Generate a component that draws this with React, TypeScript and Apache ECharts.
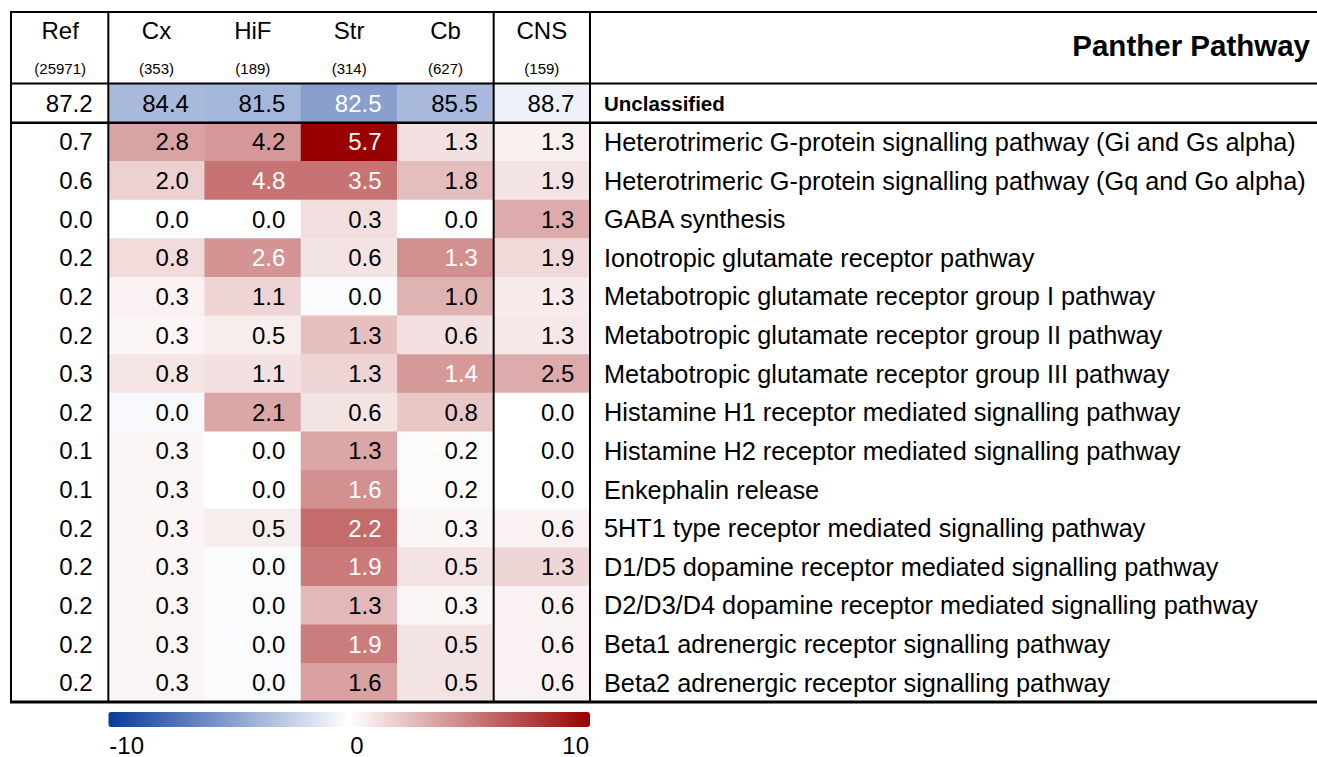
import React, { useEffect, useRef } from 'react';
import * as echarts from 'echarts';

// ---------- data ----------
const columns = ['Ref', 'Cx', 'HiF', 'Str', 'Cb', 'CNS'];
const columnCounts = ['(25971)', '(353)', '(189)', '(314)', '(627)', '(159)'];

const pathways = [
  'Unclassified',
  'Heterotrimeric G-protein signalling pathway (Gi and Gs alpha)',
  'Heterotrimeric G-protein signalling pathway (Gq and Go alpha)',
  'GABA synthesis',
  'Ionotropic glutamate receptor pathway',
  'Metabotropic glutamate receptor group I pathway',
  'Metabotropic glutamate receptor group II pathway',
  'Metabotropic glutamate receptor group III pathway',
  'Histamine H1 receptor mediated signalling pathway',
  'Histamine H2 receptor mediated signalling pathway',
  'Enkephalin release',
  '5HT1 type receptor mediated signalling pathway',
  'D1/D5 dopamine receptor mediated signalling pathway',
  'D2/D3/D4 dopamine receptor mediated signalling pathway',
  'Beta1 adrenergic receptor signalling pathway',
  'Beta2 adrenergic receptor signalling pathway',
];

// percentages shown in the cells
const refPct = [87.2, 0.7, 0.6, 0.0, 0.2, 0.2, 0.2, 0.3, 0.2, 0.1, 0.1, 0.2, 0.2, 0.2, 0.2, 0.2];
const cxPct = [84.4, 2.8, 2.0, 0.0, 0.8, 0.3, 0.3, 0.8, 0.0, 0.3, 0.3, 0.3, 0.3, 0.3, 0.3, 0.3];
const hifPct = [81.5, 4.2, 4.8, 0.0, 2.6, 1.1, 0.5, 1.1, 2.1, 0.0, 0.0, 0.5, 0.0, 0.0, 0.0, 0.0];
const strPct = [82.5, 5.7, 3.5, 0.3, 0.6, 0.0, 1.3, 1.3, 0.6, 1.3, 1.6, 2.2, 1.9, 1.3, 1.9, 1.6];
const cbPct = [85.5, 1.3, 1.8, 0.0, 1.3, 1.0, 0.6, 1.4, 0.8, 0.2, 0.2, 0.3, 0.5, 0.3, 0.5, 0.5];
const cnsPct = [88.7, 1.3, 1.9, 1.3, 1.9, 1.3, 1.3, 2.5, 0.0, 0.0, 0.0, 0.6, 1.3, 0.6, 0.6, 0.6];

// colour scores (enrichment statistic, -10 .. 10)
const refScore = [0, 0, 0, 0, 0, 0, 0, 0, 0, 0, 0, 0, 0, 0, 0, 0];
const cxScore = [-3.5, 3.6, 1.8, 0, 1.4, 0.5, 0.4, 1.0, -0.3, 0.4, 0.4, 0.4, 0.4, 0.4, 0.4, 0.4];
const hifScore = [-3.7, 4.0, 5.5, 0, 4.2, 1.7, 0.7, 1.2, 3.5, 0, 0, 0.7, -0.2, -0.2, -0.2, -0.2];
const strScore = [-4.8, 10, 5.5, 1.3, 1.1, -0.2, 2.5, 1.7, 1.1, 3.5, 4.4, 5.8, 5.2, 2.8, 5.1, 3.7];
const cbScore = [-3.5, 1.2, 2.6, 0, 4.4, 3.0, 1.2, 4.0, 2.2, 0.2, 0.2, 0.4, 1.1, 0.4, 1.1, 1.1];
const cnsScore = [-0.7, 0.6, 1.1, 3.3, 1.5, 0.8, 0.9, 3.3, 0, 0, 0, 0.5, 1.6, 0.5, 0.5, 0.5];

// significant cells (white text): [columnIndex, rowIndex]
const significantCells = [
  [3, 0], [3, 1], [2, 2], [3, 2], [2, 4], [4, 4], [4, 7], [3, 10], [3, 11], [3, 12], [3, 14],
];

const colorbarTicks = [-10, 0, 10];
const colorRange = ['#0a3a9c', '#ffffff', '#990000'];

// ---------- layout ----------
const W = 1317;
const H = 757;
const FONT = '"Liberation Sans", Arial, Helvetica, sans-serif';
const GRID_LEFT = 12;
const GRID_TOP = 84;
const GRID_W = 578;
const GRID_H = 618;
const TABLE_TOP = 12;
const BAR_TOP = 712;
const BAR_THICK = 15;

export default function App() {
  const ref = useRef<HTMLDivElement>(null);

  useEffect(() => {
    if (!ref.current) return;
    const chart = echarts.init(ref.current, undefined, { renderer: 'svg' });

    const pctByCol = [refPct, cxPct, hifPct, strPct, cbPct, cnsPct];
    const scoreByCol = [refScore, cxScore, hifScore, strScore, cbScore, cnsScore];
    const sigSet = new Set(significantCells.map(([c, r]) => `${c}-${r}`));

    const data: any[] = [];
    columns.forEach((_, c) => {
      pathways.forEach((__, r) => {
        const item: any = { value: [c, r, scoreByCol[c][r], pctByCol[c][r]] };
        if (sigSet.has(`${c}-${r}`)) item.label = { color: '#ffffff' };
        data.push(item);
      });
    });

    const colW = GRID_W / columns.length;
    const rowH = GRID_H / pathways.length;
    const right = GRID_LEFT + GRID_W;
    const bottom = GRID_TOP + GRID_H;

    const hLine = (y: number, lw: number) => ({
      type: 'line',
      shape: { x1: GRID_LEFT - 2, y1: y, x2: W, y2: y },
      style: { stroke: '#000', lineWidth: lw },
      z: 100,
    });
    const vLine = (x: number, lw: number) => ({
      type: 'line',
      shape: { x1: x, y1: TABLE_TOP - 1, x2: x, y2: bottom + 1 },
      style: { stroke: '#000', lineWidth: lw },
      z: 100,
    });

    const tickMin = colorbarTicks[0];
    const tickMax = colorbarTicks[colorbarTicks.length - 1];
    const tickTexts = colorbarTicks.map((t, i) => ({
      type: 'text',
      x: GRID_LEFT + colW + ((t - tickMin) / (tickMax - tickMin)) * (GRID_W - colW) + (i === 0 ? 1 : i === colorbarTicks.length - 1 ? -1 : 1),
      y: BAR_TOP + BAR_THICK + 18,
      style: {
        text: String(t),
        fontSize: 24,
        fontFamily: FONT,
        fill: '#000',
        align: i === colorbarTicks.length - 1 ? 'right' : 'left',
        verticalAlign: 'middle',
      },
    }));

    chart.setOption({
      animation: false,
      textStyle: { fontFamily: FONT },
      title: {
        text: 'Panther Pathway',
        right: 7,
        top: 30,
        padding: 0,
        textStyle: { fontSize: 29.5, fontWeight: 'bold', color: '#000', fontFamily: FONT },
      },
      grid: {
        left: GRID_LEFT,
        top: GRID_TOP,
        width: GRID_W,
        height: GRID_H,
        containLabel: false,
        outerBoundsMode: 'none',
      },
      xAxis: {
        type: 'category',
        data: columns,
        position: 'top',
        axisLine: { show: false },
        axisTick: { show: false },
        splitLine: { show: false },
        axisLabel: {
          interval: 0,
          margin: 3,
          color: '#000',
          formatter: (v: string, i: number) => `{a|${v}}\n{b|${columnCounts[i]}}`,
          rich: {
            a: { fontSize: 24, lineHeight: 50, color: '#000', fontFamily: FONT },
            b: { fontSize: 15, lineHeight: 26, color: '#000', fontFamily: FONT },
          },
        },
      },
      yAxis: {
        type: 'category',
        data: pathways,
        inverse: true,
        position: 'right',
        axisLine: { show: false },
        axisTick: { show: false },
        splitLine: { show: false },
        axisLabel: {
          interval: 0,
          margin: 14,
          align: 'left',
          fontSize: 25.3,
          color: '#000',
          fontFamily: FONT,
          formatter: (v: string) => (v === 'Unclassified' ? `{u|${v}}` : v),
          rich: {
            u: { fontSize: 20.5, fontWeight: 'bold', color: '#000', fontFamily: FONT },
          },
        },
      },
      visualMap: {
        type: 'continuous',
        min: tickMin,
        max: tickMax,
        dimension: 2,
        seriesIndex: 0,
        orient: 'horizontal',
        left: GRID_LEFT + colW,
        top: BAR_TOP,
        itemWidth: BAR_THICK,
        itemHeight: GRID_W - colW,
        padding: 0,
        calculable: false,
        hoverLink: false,
        text: ['', ''],
        textGap: 0,
        inRange: { color: colorRange },
      },
      series: [
        {
          type: 'heatmap',
          data,
          itemStyle: { borderWidth: 0 },
          emphasis: { disabled: true },
          label: {
            show: true,
            position: 'insideRight',
            distance: 16,
            fontSize: 24,
            color: '#000',
            fontFamily: FONT,
            formatter: (p: any) => Number(p.value[3]).toFixed(1),
          },
        },
      ],
      graphic: [
        hLine(TABLE_TOP, 2),
        hLine(GRID_TOP - 0.5, 2),
        hLine(GRID_TOP + rowH, 2.5),
        hLine(bottom, 3),
        vLine(GRID_LEFT - 1, 2),
        vLine(GRID_LEFT + colW, 2),
        vLine(GRID_LEFT + colW * 5, 2),
        vLine(right, 2),
        ...tickTexts,
      ],
    });

    return () => chart.dispose();
  }, []);

  return (
    <div
      ref={ref}
      style={{ position: 'fixed', left: 0, top: 0, width: W, height: H, background: '#fff' }}
    />
  );
}
